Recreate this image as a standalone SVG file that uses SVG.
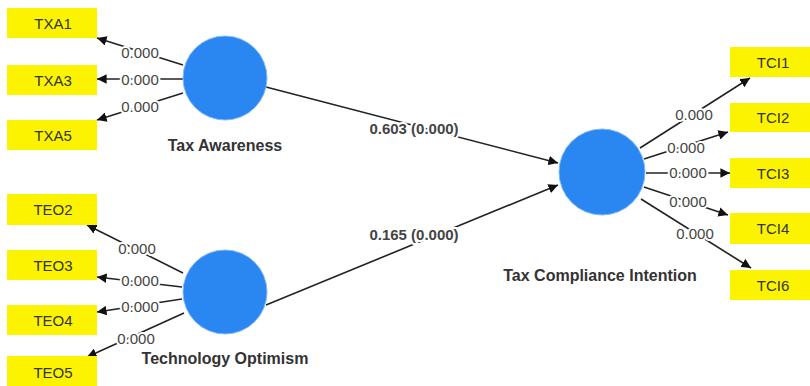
<svg xmlns="http://www.w3.org/2000/svg" width="810" height="386" viewBox="0 0 810 386">
<style>
.box{fill:#fbf300}
.bt{font-family:"Liberation Sans",Arial,sans-serif;font-size:15px;fill:#333;text-anchor:middle;dominant-baseline:central}
.lv{fill:#2a86f0;stroke:#7fb8f8;stroke-width:1}
.lt{font-family:"Liberation Sans",Arial,sans-serif;font-size:16px;font-weight:bold;fill:#333;text-anchor:middle;dominant-baseline:central}
.ln{stroke:#222;stroke-width:1.6;fill:none;marker-end:url(#ah)}
.el{font-family:"Liberation Sans",Arial,sans-serif;font-size:15px;fill:#444;text-anchor:middle;dominant-baseline:central;stroke:#fff;stroke-width:4;paint-order:stroke}
.pl{font-family:"Liberation Sans",Arial,sans-serif;font-size:15px;font-weight:bold;fill:#444;text-anchor:middle;dominant-baseline:central;stroke:#fff;stroke-width:4;paint-order:stroke}
</style>
<defs>
<marker id="ah" viewBox="0 0 10 10" refX="10" refY="5" markerWidth="6" markerHeight="6" markerUnits="strokeWidth" orient="auto">
<path d="M0,0 L10,5 L0,10 z" fill="#111"/>
</marker>
</defs>
<rect width="810" height="386" fill="#fff"/>
<g id="connectors">
<line class="ln" x1="183" y1="65" x2="97" y2="38"/>
<line class="ln" x1="183" y1="79" x2="97" y2="79"/>
<line class="ln" x1="183" y1="93" x2="97" y2="120"/>
<line class="ln" x1="183" y1="273" x2="87" y2="225"/>
<line class="ln" x1="182" y1="287" x2="97" y2="277"/>
<line class="ln" x1="182" y1="299" x2="97" y2="312"/>
<line class="ln" x1="184" y1="313" x2="87" y2="357"/>
<line class="ln" x1="640" y1="148" x2="750" y2="78"/>
<line class="ln" x1="644" y1="159" x2="728" y2="132"/>
<line class="ln" x1="646" y1="173" x2="730" y2="173"/>
<line class="ln" x1="644" y1="187" x2="728" y2="215"/>
<line class="ln" x1="641" y1="199" x2="751" y2="268"/>
<line class="ln" x1="266" y1="87" x2="558" y2="163"/>
<line class="ln" x1="266" y1="305" x2="558" y2="185"/>
<text class="el" x="140" y="52">0.000</text>
<text class="el" x="140" y="79">0.000</text>
<text class="el" x="140" y="106">0.000</text>
<text class="el" x="137" y="248">0.000</text>
<text class="el" x="140" y="280">0.000</text>
<text class="el" x="140" y="306">0.000</text>
<text class="el" x="136" y="338">0.000</text>
<text class="el" x="694" y="114">0.000</text>
<text class="el" x="686" y="147">0.000</text>
<text class="el" x="688" y="172">0.000</text>
<text class="el" x="688" y="201">0.000</text>
<text class="el" x="695" y="233">0.000</text>
<text class="pl" x="414" y="128">0.603 (0.000)</text>
<text class="pl" x="414" y="234">0.165 (0.000)</text>
</g>
<g id="TXA1"><rect class="box" x="7" y="8" width="90" height="30"/><text class="bt" x="53" y="23">TXA1</text></g>
<g id="TXA3"><rect class="box" x="7" y="65" width="90" height="30"/><text class="bt" x="53" y="80">TXA3</text></g>
<g id="TXA5"><rect class="box" x="7" y="120" width="90" height="30"/><text class="bt" x="53" y="135">TXA5</text></g>
<g id="TEO2"><rect class="box" x="7" y="194" width="90" height="31"/><text class="bt" x="53" y="209">TEO2</text></g>
<g id="TEO3"><rect class="box" x="7" y="250" width="90" height="30"/><text class="bt" x="53" y="265">TEO3</text></g>
<g id="TEO4"><rect class="box" x="7" y="305" width="90" height="30"/><text class="bt" x="53" y="320">TEO4</text></g>
<g id="TEO5"><rect class="box" x="7" y="356" width="90" height="30"/><text class="bt" x="53" y="372">TEO5</text></g>
<g id="TCI1"><rect class="box" x="730" y="47" width="80" height="30"/><text class="bt" x="773" y="62">TCI1</text></g>
<g id="TCI2"><rect class="box" x="730" y="103" width="80" height="29"/><text class="bt" x="773" y="117">TCI2</text></g>
<g id="TCI3"><rect class="box" x="730" y="158" width="80" height="30"/><text class="bt" x="773" y="173">TCI3</text></g>
<g id="TCI4"><rect class="box" x="730" y="213" width="80" height="31"/><text class="bt" x="773" y="228">TCI4</text></g>
<g id="TCI6"><rect class="box" x="730" y="270" width="80" height="30"/><text class="bt" x="773" y="285">TCI6</text></g>
<g id="TaxAwareness"><circle class="lv" cx="225" cy="78" r="42"/><text class="lt" x="225" y="145">Tax Awareness</text></g>
<g id="TechnologyOptimism"><circle class="lv" cx="225" cy="292" r="42"/><text class="lt" x="225" y="358">Technology Optimism</text></g>
<g id="TaxComplianceIntention"><circle class="lv" cx="602" cy="172" r="43"/><text class="lt" x="600" y="275">Tax Compliance Intention</text></g>
</svg>
